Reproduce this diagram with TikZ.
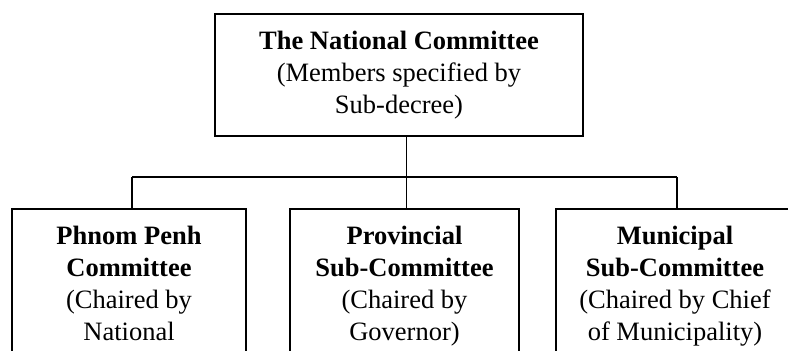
\documentclass[tikz,border=0pt]{standalone}
\usepackage{fontspec}
\setmainfont{Liberation Serif}
\usepackage{tikz}
\usetikzlibrary{positioning}
\tikzset{cmtbox/.style={draw, line width=1.6pt, align=center, font=\fontsize{26.5}{32}\selectfont}}
\tikzset{subbox/.style={cmtbox, anchor=north, inner xsep=0pt, inner ysep=17pt, text depth=150pt}}
\tikzset{link/.style={line width=1.6pt}}

\begin{document}
\begin{tikzpicture}[x=1pt,y=-1pt]
\useasboundingbox (0,0) rectangle (788,351);
\clip (0,0) rectangle (788,351);
\node[cmtbox, minimum width=368pt, minimum height=122pt] (natl) at (399,75)
  {\textbf{The National Committee}\\(Members specified by\\Sub-decree)};
\node[subbox, minimum width=234pt] (pp) at (129,208)
  {\textbf{Phnom Penh}\\\textbf{Committee}\\(Chaired by\\National};
\node[subbox, minimum width=229pt] (prov) at (404.5,208)
  {\textbf{Provincial}\\\textbf{Sub-Committee}\\(Chaired by\\Governor)};
\node[subbox, minimum width=238pt] (muni) at (675,208)
  {\textbf{Municipal}\\\textbf{Sub-Committee}\\(Chaired by Chief\\of Municipality)};
\coordinate (bus) at (0,177);
% stem and branches
\draw[link] ([xshift=7.5pt]natl.south) -- ([xshift=7.5pt]natl.south |- bus);
\draw[link] ([xshift=3pt]pp.north |- bus) -- ([xshift=2pt]muni.north |- bus);
\draw[link] ([xshift=3pt]pp.north) -- ([xshift=3pt]pp.north |- bus);
\draw[link] ([xshift=2pt]prov.north) -- ([xshift=2pt]prov.north |- bus);
\draw[link] ([xshift=2pt]muni.north) -- ([xshift=2pt]muni.north |- bus);
\end{tikzpicture}
\end{document}
